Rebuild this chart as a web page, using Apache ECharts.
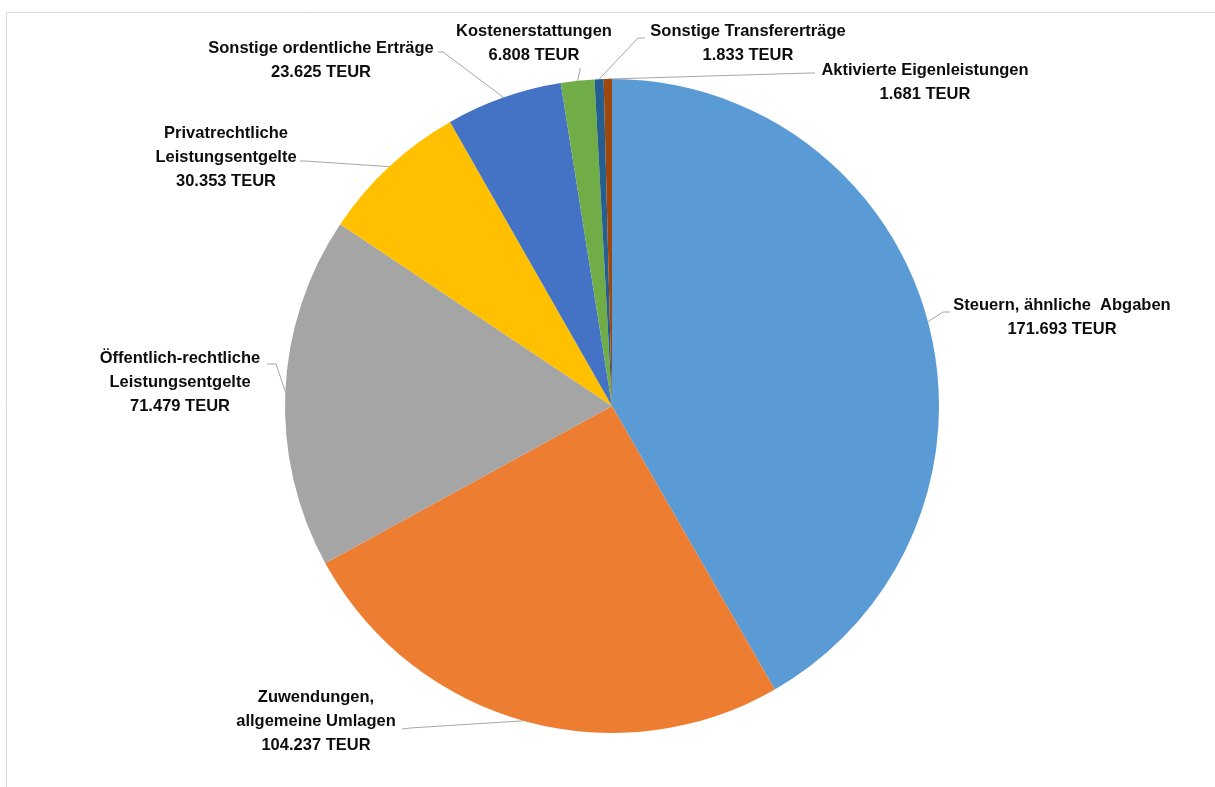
<!DOCTYPE html>
<html>
<head>
<meta charset="utf-8">
<script src="https://cdn.jsdelivr.net/npm/echarts@6/dist/echarts.min.js"></script>
<style>
  html, body { margin: 0; padding: 0; background: #fff; }
  #chart { width: 1215px; height: 787px; }
</style>
</head>
<body>
<div id="chart"></div>
<script>
// Erträge, Werte in TEUR (im Uhrzeigersinn ab 12 Uhr)
var categories = [
  'Steuern, ähnliche  Abgaben',
  'Zuwendungen,\nallgemeine Umlagen',
  'Öffentlich-rechtliche\nLeistungsentgelte',
  'Privatrechtliche\nLeistungsentgelte',
  'Sonstige ordentliche Erträge',
  'Kostenerstattungen',
  'Sonstige Transfererträge',
  'Aktivierte Eigenleistungen'
];
var values = [171693, 104237, 71479, 30353, 23625, 6808, 1833, 1681];
var colors = ['#5B9BD5', '#ED7D31', '#A5A5A5', '#FFC000', '#4472C4', '#70AD47', '#255E91', '#9E480E'];

// Lage der Beschriftungen (Mitte) und Knickpunkte der Führungslinien
var labelPos = [[1062, 317], [316, 721], [180, 382], [226, 157], [321, 60], [534, 43], [748, 43], [925, 82]];
var lineEnds = [
  [[943, 312], [950, 312]],
  [[410, 728], [402, 729]],
  [[276, 364], [267, 364]],
  [[305, 161], [300, 161]],
  [[443, 52], [438, 52]],
  [[580, 70], [580, 68]],
  [[638, 38], [645, 38]],
  [[810, 73], [815, 73]]
];

function fmt(v) {
  return String(v).replace(/\B(?=(\d{3})+(?!\d))/g, '.');
}

var data = [];
for (var i = 0; i < values.length; i++) {
  data.push({ name: categories[i], value: values[i], itemStyle: { color: colors[i] } });
}

var chart = echarts.init(document.getElementById('chart'));
chart.setOption({
  backgroundColor: '#fff',
  animation: false,
  graphic: [{
    type: 'rect',
    shape: { x: 6.5, y: 12.5, width: 1300, height: 800 },
    style: { fill: 'none', stroke: '#d9d9d9', lineWidth: 1 },
    silent: true
  }],
  series: [{
    type: 'pie',
    center: [612, 406],
    radius: 327,
    startAngle: 90,
    clockwise: true,
    avoidLabelOverlap: false,
    data: data,
    label: {
      show: true,
      position: 'outside',
      formatter: function (p) { return p.name + '\n' + fmt(p.value) + ' TEUR'; },
      fontFamily: 'Liberation Sans',
      fontWeight: 'bold',
      fontSize: 16.5,
      lineHeight: 24,
      color: '#0d0d0d',
      align: 'center'
    },
    labelLine: {
      show: true,
      length: 10,
      length2: 10,
      lineStyle: { color: '#a6a6a6', width: 1 }
    },
    labelLayout: function (params) {
      var i = params.dataIndex;
      var res = { x: labelPos[i][0], y: labelPos[i][1], align: 'center', verticalAlign: 'middle' };
      if (params.labelLinePoints) {
        res.labelLinePoints = [params.labelLinePoints[0], lineEnds[i][0], lineEnds[i][1]];
      }
      return res;
    },
    emphasis: { disabled: true }
  }]
});
</script>
</body>
</html>
